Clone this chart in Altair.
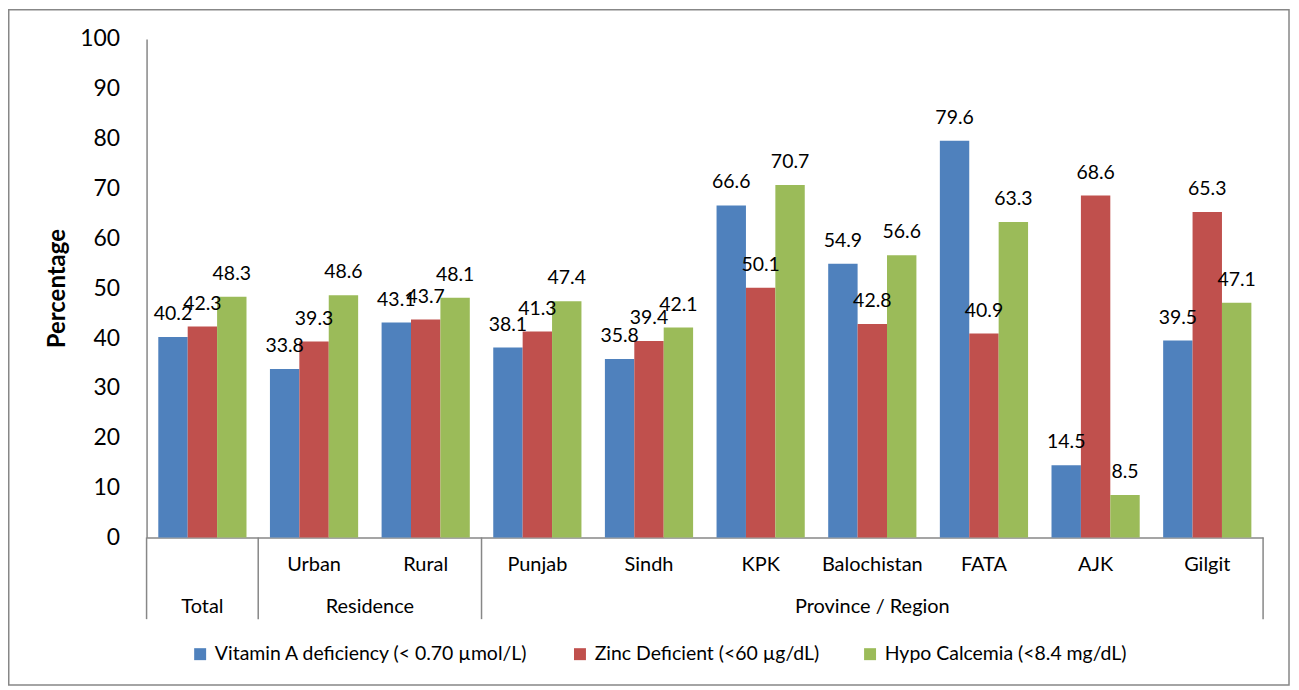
import altair as alt
import pandas as pd

categories = ["Total", "Urban", "Rural", "Punjab", "Sindh", "KPK",
              "Balochistan", "FATA", "AJK", "Gilgit"]
level1_labels = ["", "Urban", "Rural", "Punjab", "Sindh", "KPK",
                 "Balochistan", "FATA", "AJK", "Gilgit"]
series = ["Vitamin A deficiency (< 0.70 µmol/L)",
          "Zinc Deficient (<60 µg/dL)",
          "Hypo Calcemia (<8.4 mg/dL)"]
vitamin_a = [40.2, 33.8, 43.1, 38.1, 35.8, 66.6, 54.9, 79.6, 14.5, 39.5]
zinc = [42.3, 39.3, 43.7, 41.3, 39.4, 50.1, 42.8, 40.9, 68.6, 65.3]
calcium = [48.3, 48.6, 48.1, 47.4, 42.1, 70.7, 56.6, 63.3, 8.5, 47.1]
groups = ["Total", "Residence", "Province / Region"]
group_start = [0, 1, 3]
group_end = [1, 3, 10]
colors = ["#4F81BD", "#C0504D", "#9BBB59"]
y_ticks = [0, 10, 20, 30, 40, 50, 60, 70, 80, 90, 100]

FONT = "Lato"
GRAY = "#878787"

rows = []
for name, vals in zip(series, [vitamin_a, zinc, calcium]):
    for c, v in zip(categories, vals):
        rows.append({"cat": c, "series": name, "value": v})
df = pd.DataFrame(rows)

lvl1 = pd.DataFrame({"pos": [i + 0.5 for i in range(len(categories))],
                     "label": level1_labels})
grp = pd.DataFrame({"pos": [(s + e) / 2 for s, e in zip(group_start, group_end)],
                    "label": groups})
div = pd.DataFrame({"pos": sorted(set(group_start + group_end))})

W, H = 1120, 500

x_enc = alt.X("cat:N", sort=categories, title=None,
              scale=alt.Scale(paddingInner=0.21, paddingOuter=0.105),
              axis=alt.Axis(labels=False, ticks=False, domainColor=GRAY,
                            domainWidth=1.5))
xoff = alt.XOffset("series:N", sort=series,
                   scale=alt.Scale(paddingInner=0, paddingOuter=0))
y_enc = alt.Y("value:Q", scale=alt.Scale(domain=[0, 100], nice=False),
              axis=alt.Axis(values=y_ticks, grid=False, ticks=False, tickSize=0,
                            domainColor=GRAY, domainWidth=1.5,
                            labelFont=FONT, labelFontSize=23, labelColor="black",
                            labelPadding=27,
                            title="Percentage", titleFont=FONT, titleFontSize=24,
                            titleFontWeight="bold", titleColor="black",
                            titleAngle=-90, titleX=-89, titleY=250,
                            titleAlign="center", titleBaseline="middle"))

bars = alt.Chart(df).mark_bar().encode(
    x=x_enc, xOffset=xoff, y=y_enc,
    color=alt.Color("series:N", sort=series,
                    scale=alt.Scale(domain=series, range=colors),
                    legend=alt.Legend(title=None, orient="none", legendX=44,
                                      legendY=607, direction="horizontal",
                                      columns=3, columnPadding=41,
                                      symbolType="square", symbolSize=144,
                                      symbolStrokeWidth=0, labelFont=FONT,
                                      labelFontSize=19.5, labelColor="black",
                                      labelLimit=0, labelOffset=5)),
)

labels = alt.Chart(df).mark_text(dy=-23, baseline="middle", fontSize=19.5,
                                 font=FONT, color="black").encode(
    x=x_enc, xOffset=xoff, y=alt.Y("value:Q"),
    text=alt.Text("value:Q", format=".1f"),
)

qx = alt.X("pos:Q", scale=alt.Scale(domain=[0, 10], nice=False, zero=False),
           axis=None)

dividers = alt.Chart(div).mark_rule(color=GRAY, strokeWidth=1.5).encode(
    x=qx, y=alt.value(H), y2=alt.value(582))
lvl1_text = alt.Chart(lvl1).mark_text(fontSize=20, font=FONT, color="black",
                                      baseline="middle").encode(
    x=qx, y=alt.value(528), text="label:N")
grp_text = alt.Chart(grp).mark_text(fontSize=20, font=FONT, color="black",
                                    baseline="middle").encode(
    x=qx, y=alt.value(570), text="label:N")
border = alt.Chart(pd.DataFrame({"a": [0]})).mark_rect(
    fill=None, stroke=GRAY, strokeWidth=1.5).encode(
    x=alt.value(-138.25), x2=alt.value(1146), y=alt.value(-29.25), y2=alt.value(648))

table = alt.layer(border, dividers, lvl1_text, grp_text)

chart = alt.layer(alt.layer(bars, labels), table).resolve_scale(
    x="independent").properties(
    width=W, height=H,
    autosize=alt.AutoSizeParams(type="none"),
    padding={"left": 139, "top": 30, "right": 28, "bottom": 150},
    background="white",
).configure_view(stroke=None)

chart.save("out.html", embed_options={"renderer": "svg", "actions": False})
